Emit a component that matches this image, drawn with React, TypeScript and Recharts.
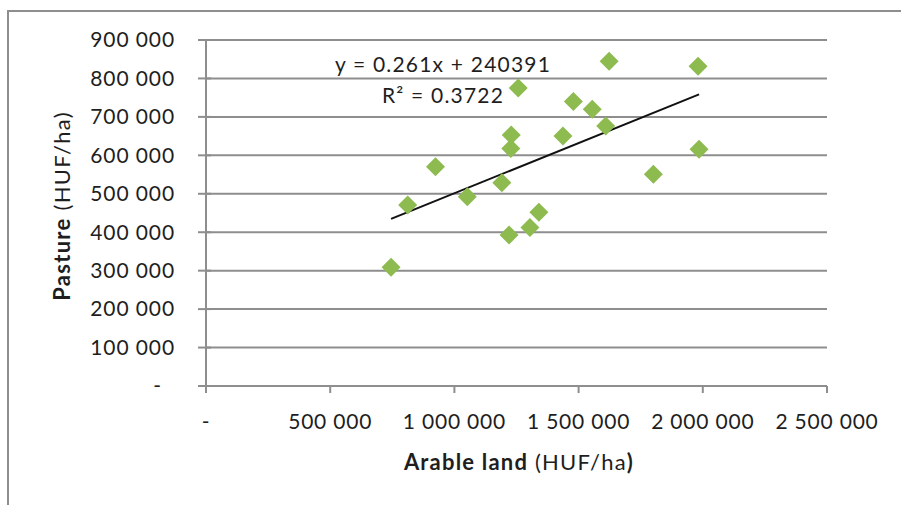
import {
  ScatterChart,
  Scatter,
  XAxis,
  YAxis,
  CartesianGrid,
  ReferenceLine,
  Label,
  Customized,
} from "recharts";

// values
const arableLand = [
  745000, 812000, 924000, 1052000, 1191000, 1220000, 1227000, 1229000, 1257000, 1304000,
  1340000, 1437000, 1479000, 1555000, 1609000, 1623000, 1801000, 1981000, 1985000,
];
const pasture = [
  309000, 471000, 570000, 492000, 529000, 393000, 618000, 653000, 775000, 412000,
  452000, 650000, 740000, 720000, 676000, 845000, 551000, 832000, 616000,
];
const xTicks = [0, 500000, 1000000, 1500000, 2000000, 2500000];
const yTicks = [0, 100000, 200000, 300000, 400000, 500000, 600000, 700000, 800000, 900000];

// linear trendline as printed on the chart
const slope = 0.261;
const intercept = 240391;
const equationLabel = "y = 0.261x + 240391";
const rSquaredLabel = "R² = 0.3722";

const points = arableLand.map((x, i) => ({ x, y: pasture[i] }));
const xMin = Math.min(...arableLand);
const xMax = Math.max(...arableLand);
const trend = [
  { x: xMin, y: slope * xMin + intercept },
  { x: xMax, y: slope * xMax + intercept },
];

const FONT = "Lato, 'Open Sans', sans-serif";
const TEXT = "#1e1e1e";
const GRID = "#8e8e8e";
const MARKER = "#8dbb50";

function fmt(v: number) {
  if (v === 0) return "-";
  return String(v).replace(/\B(?=(\d{3})+(?!\d))/g, " ");
}

function Diamond(props: any) {
  const { cx, cy } = props;
  const r = 9.5;
  return (
    <polygon
      points={`${cx},${cy - r} ${cx + r},${cy} ${cx},${cy + r} ${cx - r},${cy}`}
      fill={MARKER}
    />
  );
}

function YTick(props: any) {
  const { x, y, payload } = props;
  const zero = payload.value === 0;
  return (
    <g>
      <line x1={206} x2={211} y1={y} y2={y} stroke={GRID} strokeWidth={2} />
      <text
        x={zero ? x - 13 : x}
        y={y}
        dy="0.35em"
        textAnchor="end"
        fontFamily={FONT}
        fontSize={21}
        letterSpacing={0.9}
        fill={TEXT}
      >
        {fmt(payload.value)}
      </text>
    </g>
  );
}

function XTick(props: any) {
  const { x, y, payload } = props;
  return (
    <text
      x={x}
      y={y}
      dy="0.71em"
      textAnchor="middle"
      fontFamily={FONT}
      fontSize={21}
      letterSpacing={0.8}
      fill={TEXT}
    >
      {fmt(payload.value)}
    </text>
  );
}

function Equation() {
  return (
    <g fontFamily={FONT} fontSize={21} letterSpacing={1.2} fill={TEXT}>
      <text x={443} y={72} textAnchor="middle">
        {equationLabel}
      </text>
      <text x={443} y={103} textAnchor="middle">
        {rSquaredLabel}
      </text>
    </g>
  );
}

export default function App() {
  return (
    <div style={{ position: "absolute", left: 0, top: 0, width: 901, height: 505, background: "#fff" }}>
      <div
        style={{
          position: "absolute",
          left: 7,
          top: 10,
          width: 894,
          height: 495,
          borderLeft: `2px solid ${GRID}`,
          borderTop: `2px solid ${GRID}`,
          boxSizing: "border-box",
        }}
      />
      <div style={{ position: "absolute", left: 0, top: 0 }}>
        <ScatterChart width={901} height={505} margin={{ top: 40, right: 74, bottom: 59, left: 106 }}>
          <CartesianGrid horizontal vertical={false} stroke={GRID} strokeWidth={2} />
          <XAxis
            type="number"
            dataKey="x"
            domain={[0, 2500000]}
            ticks={xTicks}
            height={60}
            axisLine={{ stroke: GRID, strokeWidth: 2 }}
            tickLine={{ stroke: GRID, strokeWidth: 2 }}
            tickSize={7}
            tickMargin={21}
            tick={<XTick />}
            interval={0}
          >
            <Label
              content={() => (
                <text x={519} y={470} textAnchor="middle" fontFamily={FONT} fontSize={22} letterSpacing={1.2} fill={TEXT}>
                  <tspan fontWeight="bold">Arable land</tspan>
                  <tspan> (HUF/ha</tspan>
                  <tspan fontWeight="bold">)</tspan>
                </text>
              )}
            />
          </XAxis>
          <YAxis
            type="number"
            dataKey="y"
            domain={[0, 900000]}
            ticks={yTicks}
            width={100}
            axisLine={{ stroke: GRID, strokeWidth: 2 }}
            tickLine={{ stroke: GRID, strokeWidth: 2 }}
            tickSize={8}
            tickMargin={23}
            tick={<YTick />}
            interval={0}
          >
            <Label
              content={() => (
                <text
                  x={70}
                  y={206}
                  transform="rotate(-90 70 206)"
                  textAnchor="middle"
                  fontFamily={FONT}
                  fontSize={22}
                  letterSpacing={1.3}
                  fill={TEXT}
                >
                  <tspan fontWeight="bold">Pasture</tspan>
                  <tspan> (HUF/ha)</tspan>
                </text>
              )}
            />
          </YAxis>
          <Scatter data={points} shape={<Diamond />} isAnimationActive={false} />
          <ReferenceLine
            segment={trend}
            stroke="#111"
            strokeWidth={2}
            ifOverflow="visible"
          />
          <Customized component={Equation} />
        </ScatterChart>
      </div>
    </div>
  );
}
